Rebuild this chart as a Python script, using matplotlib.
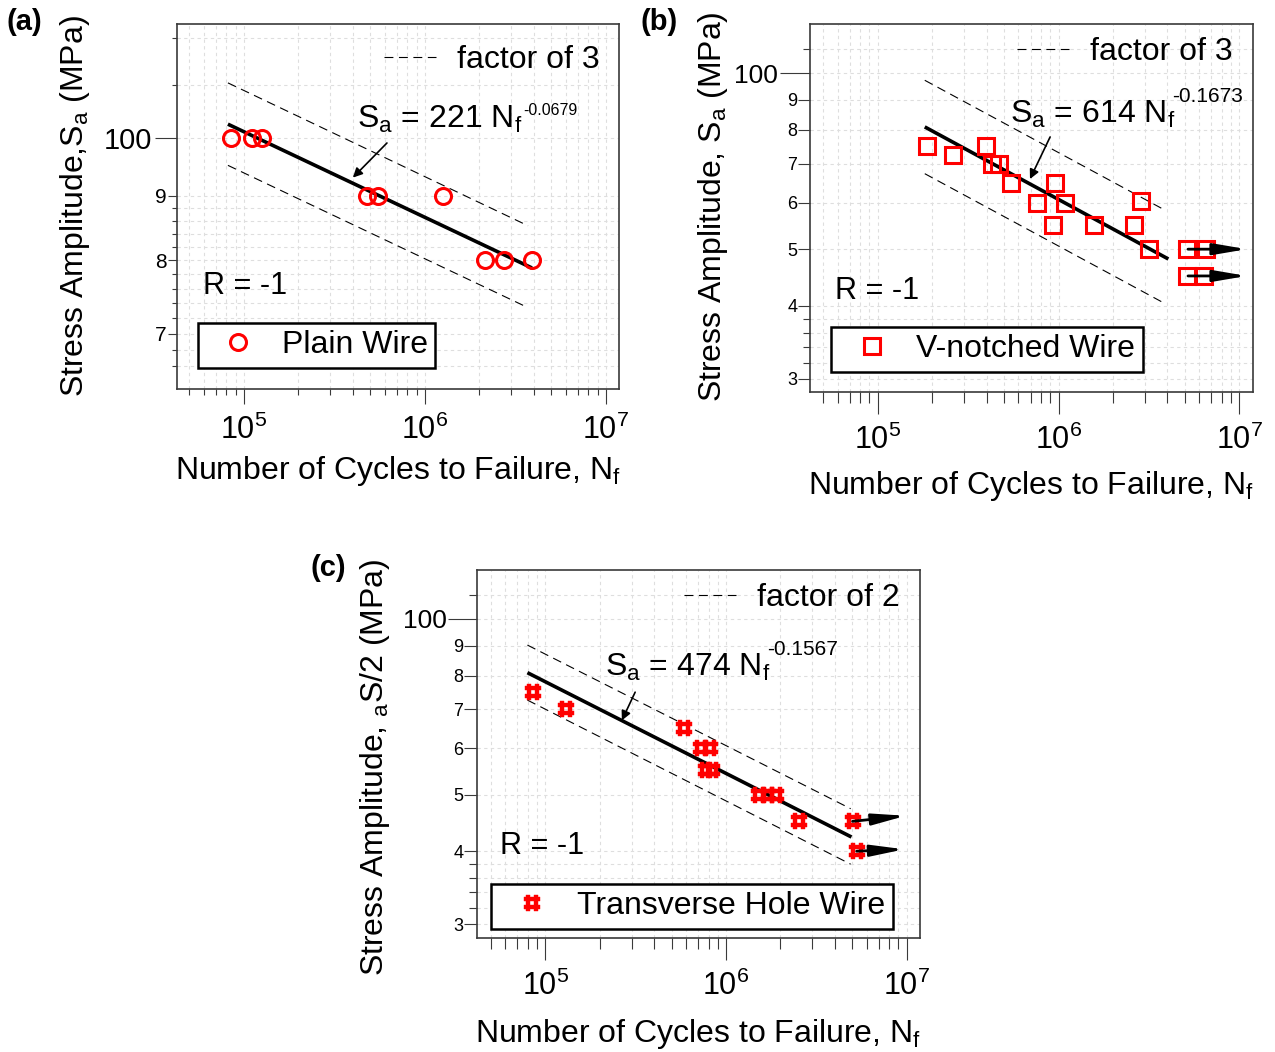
import matplotlib
matplotlib.use('Agg')
import matplotlib.pyplot as plt
from matplotlib.path import Path
from matplotlib.lines import Line2D
from matplotlib.ticker import FixedLocator, FixedFormatter, NullFormatter, NullLocator, LogLocator

plt.rcParams['font.family'] = ['Liberation Sans', 'DejaVu Sans']
plt.rcParams['mathtext.fontset'] = 'custom'
plt.rcParams['mathtext.rm'] = 'Liberation Sans'
plt.rcParams['mathtext.it'] = 'Liberation Sans:italic'
plt.rcParams['mathtext.default'] = 'regular'

# ---- (a) plain wire ----
plain_N = [8.47e4, 1.103e5, 1.254e5, 4.77e5, 5.53e5, 1.256e6, 2.15e6, 2.72e6, 3.90e6]
plain_S = [100, 100, 100, 90, 90, 90, 80, 80, 80]
plain_fit_N = [8.16e4, 3.90e6]
plain_fit_S = [102.5, 78.9]
plain_band_N = [8.16e4, 3.71e6]
plain_upper_S = [110.5, 85.2]
plain_lower_S = [95.1, 73.4]
plain_eq_head = (4.0e5, 93.0)

# ---- (b) V-notched wire ----
vnotch_N = [1.866e5, 2.60e5, 3.96e5, 4.28e5, 4.68e5, 5.45e5, 7.60e5, 9.57e5,
            1.087e6, 9.33e5, 1.574e6, 2.62e6, 2.86e6, 3.17e6]
vnotch_S = [75, 72.5, 75, 70, 70, 65, 60, 65, 60, 55, 55, 55, 60.5, 50]
vnotch_runout_N = [5.15e6, 6.55e6, 5.15e6, 6.38e6]
vnotch_runout_S = [50, 50, 45, 45]
vnotch_arrow_start_N = [5.2e6, 5.2e6]
vnotch_arrow_end_N = [1.1e7, 1.1e7]
vnotch_arrow_S = [50, 45]
vnotch_arrow_end_S = [50, 45]
vnotch_fit_N = [1.82e5, 4.05e6]
vnotch_fit_S = [80.9, 48.1]
vnotch_band_N = [1.82e5, 3.80e6]
vnotch_upper_S = [97.2, 58.5]
vnotch_lower_S = [67.3, 40.5]
vnotch_eq_head = (6.95e5, 65.9)

# ---- (c) transverse hole wire ----
hole_N = [8.59e4, 1.307e5, 5.82e5, 7.31e5, 8.20e5, 7.70e5, 8.41e5,
          1.53e6, 1.70e6, 1.88e6, 2.55e6]
hole_S = [75, 70, 65, 60, 60, 55, 55, 50, 50, 50, 45]
hole_runout_N = [5.02e6, 5.29e6]
hole_runout_S = [45, 40]
hole_arrow_start_N = [5.02e6, 5.29e6]
hole_arrow_end_N = [9.9e6, 9.7e6]
hole_arrow_S = [45, 40]
hole_arrow_end_S = [46, 40.3]
hole_fit_N = [7.95e4, 4.95e6]
hole_fit_S = [80.9, 42.3]
hole_band_N = [7.95e4, 4.90e6]
hole_upper_S = [90.2, 47.3]
hole_lower_S = [72.6, 38.0]
hole_eq_head = (2.65e5, 67.0)

x_decades = [1e5, 1e6, 1e7]
x_labels = [r'$10^{5}$', r'$10^{6}$', r'$10^{7}$']

ya_labeled = [70, 80, 90]
ya_labels = ['7', '8', '9']
ya_small = [66, 68, 72, 74, 76, 78, 82, 84, 86, 88, 110, 120]
ybc_labeled = [30, 40, 50, 60, 70, 80, 90]
ybc_labels = ['3', '4', '5', '6', '7', '8', '9']
ybc_small = [32, 34, 36, 38, 110]

FRAME = '#3a3a3a'
GRID = '#dedede'
DASH = (0, (8, 5))

# thick "#" marker drawn as one outline plus the centre hole
a, b, c = 0.22, 0.7, 1.0
hash_outer = [(-b, c), (-a, c), (-a, b), (a, b), (a, c), (b, c), (b, b), (c, b),
              (c, a), (b, a), (b, -a), (c, -a), (c, -b), (b, -b), (b, -c), (a, -c),
              (a, -b), (-a, -b), (-a, -c), (-b, -c), (-b, -b), (-c, -b), (-c, -a),
              (-b, -a), (-b, a), (-c, a), (-c, b), (-b, b), (-b, c)]
hash_hole = [(-a, -a), (a, -a), (a, a), (-a, a), (-a, -a)]
hash_marker = Path(hash_outer + hash_hole,
                   [Path.MOVETO] + [Path.LINETO] * (len(hash_outer) - 2) + [Path.CLOSEPOLY]
                   + [Path.MOVETO] + [Path.LINETO] * 3 + [Path.CLOSEPOLY])


def style_axes(ax, xlim, ylim, labeled, labels, small, big_fs, small_fs,
               ylong, ymid, yshort, ypad_big, ypad_small, xlong, xshort):
    ax.set_xscale('log')
    ax.set_yscale('log')
    ax.set_xlim(*xlim)
    ax.set_ylim(*ylim)

    ax.xaxis.set_major_locator(FixedLocator(x_decades))
    ax.xaxis.set_major_formatter(FixedFormatter(x_labels))
    ax.xaxis.set_minor_locator(LogLocator(base=10, subs=range(2, 10)))
    ax.xaxis.set_minor_formatter(NullFormatter())
    ax.tick_params(axis='x', which='major', length=xlong, width=0.8,
                   color=FRAME, labelsize=22, pad=7.5)
    ax.tick_params(axis='x', which='minor', length=xshort, width=0.8, color=FRAME)

    ax.yaxis.set_major_locator(FixedLocator([100]))
    ax.yaxis.set_major_formatter(FixedFormatter(['100']))
    ax.yaxis.set_minor_locator(FixedLocator(labeled))
    ax.yaxis.set_minor_formatter(FixedFormatter(labels))
    ax.tick_params(axis='y', which='major', length=ylong, width=0.8,
                   color=FRAME, labelsize=big_fs, pad=ypad_big)
    ax.tick_params(axis='y', which='minor', length=ymid, width=0.8,
                   color=FRAME, labelsize=small_fs, pad=ypad_small)

    sec = ax.secondary_yaxis('left')
    sec.yaxis.set_major_locator(FixedLocator(small))
    sec.yaxis.set_major_formatter(NullFormatter())
    sec.yaxis.set_minor_locator(NullLocator())
    sec.tick_params(axis='y', which='major', length=yshort, width=0.8, color=FRAME)
    sec.spines['left'].set_visible(False)

    for s in ax.spines.values():
        s.set_color(FRAME)
        s.set_linewidth(1.2)

    xs = [v for v in list(ax.xaxis.get_majorticklocs()) + list(ax.xaxis.get_minorticklocs())
          if xlim[0] < v < xlim[1]]
    for v in xs:
        ax.axvline(v, color=GRID, lw=0.8, ls=(0, (3, 3)), zorder=0)
    for v in [100] + labeled + small:
        if ylim[0] < v < ylim[1]:
            ax.axhline(v, color=GRID, lw=0.8, ls=(0, (3, 3)), zorder=0)


def factor_legend(ax, text, anchor):
    h = Line2D([], [], color='k', lw=0.8, ls=DASH)
    leg = ax.legend([h], [text], loc='center right', bbox_to_anchor=anchor,
                    frameon=False, fontsize=23, borderpad=0, borderaxespad=0,
                    handlelength=1.63, handletextpad=0.66)
    ax.add_artist(leg)


def marker_legend(ax, handle, text, anchor, hl, hp):
    leg = ax.legend([handle], [text], loc='lower left', bbox_to_anchor=anchor,
                    fontsize=23, borderpad=0.24, borderaxespad=0, numpoints=1,
                    handlelength=hl, handletextpad=hp, fancybox=False, framealpha=1)
    leg.get_frame().set_edgecolor('k')
    leg.get_frame().set_linewidth(1.8)


fig = plt.figure(figsize=(12.75, 10.52), dpi=100)
W, H = 1275, 1052
ax_a = fig.add_axes([177 / W, 1 - 389 / H, 442 / W, 365 / H])
ax_b = fig.add_axes([810 / W, 1 - 392 / H, 443 / W, 368 / H])
ax_c = fig.add_axes([477 / W, 1 - 938 / H, 443 / W, 368 / H])

style_axes(ax_a, (4.27e4, 1.18e7), (63.3, 123.0), ya_labeled, ya_labels, ya_small,
           21, 15, 15.8, 6.5, 3.6, 2.2, 1.0, 10.8, 4.3)
style_axes(ax_b, (4.22e4, 1.19e7), (28.5, 121.3), ybc_labeled, ybc_labels, ybc_small,
           19, 13, 21.6, 8.6, 5.0, 1.5, 0.5, 15.8, 7.9)
style_axes(ax_c, (4.18e4, 1.186e7), (28.4, 121.3), ybc_labeled, ybc_labels, ybc_small,
           19, 13, 21.0, 9.4, 5.8, 1.0, 0.5, 15.8, 7.9)

arrow_eq = dict(arrowstyle='-|>', color='k', lw=1.2, mutation_scale=14, shrinkA=0, shrinkB=0)
arrow_run = dict(arrowstyle='-|>,head_length=1.0,head_width=0.17', color='k', lw=2.0,
                 mutation_scale=20, shrinkA=0, shrinkB=0)

# ---- panel (a) ----
ax = ax_a
ax.plot(plain_band_N, plain_upper_S, color='k', lw=0.8, ls=DASH)
ax.plot(plain_band_N, plain_lower_S, color='k', lw=0.8, ls=DASH)
ax.plot(plain_fit_N, plain_fit_S, color='k', lw=2.6, solid_capstyle='butt')
pts_a, = ax.plot(plain_N, plain_S, ls='none', marker='o', ms=11.5, mfc='none',
                 mec='red', mew=2.2)
ax.text(0.407, 0.715, r'S$_a$ = 221 N$_f$', transform=ax.transAxes, fontsize=23,
        ha='left', va='baseline')
ax.text(0.783, 0.751, '-0.0679', transform=ax.transAxes, fontsize=11.5,
        ha='left', va='baseline')
ax.annotate('', xy=plain_eq_head, xytext=(0.475, 0.674), textcoords='axes fraction',
            arrowprops=arrow_eq)
ax.text(0.059, 0.282, 'R = -1', transform=ax.transAxes, fontsize=22, va='center')
factor_legend(ax, 'factor of 3', (0.957, 0.901))
marker_legend(ax, pts_a, 'Plain Wire', (0.0475, 0.0575), 2.03, 0.35)
ax.set_xlabel(r'Number of Cycles to Failure, N$_f$', fontsize=23)
ax.set_ylabel(r'Stress Amplitude,S$_a$ (MPa)', fontsize=23)
ax.xaxis.set_label_coords(0.5, -0.178)
ax.yaxis.set_label_coords(-0.192, 0.5)

# ---- panel (b) ----
ax = ax_b
ax.plot(vnotch_band_N, vnotch_upper_S, color='k', lw=0.8, ls=DASH)
ax.plot(vnotch_band_N, vnotch_lower_S, color='k', lw=0.8, ls=DASH)
ax.plot(vnotch_fit_N, vnotch_fit_S, color='k', lw=2.6, solid_capstyle='butt')
pts_b, = ax.plot(vnotch_N, vnotch_S, ls='none', marker='s', ms=12.2, mfc='none',
                 mec='red', mew=2.2)
ax.plot(vnotch_runout_N, vnotch_runout_S, ls='none', marker='s', ms=12.2, mfc='none',
        mec='red', mew=2.2)
for n0, n1, s0, s1 in zip(vnotch_arrow_start_N, vnotch_arrow_end_N, vnotch_arrow_S, vnotch_arrow_end_S):
    ax.annotate('', xy=(n1, s1), xytext=(n0, s0), arrowprops=arrow_run)
ax.text(0.451, 0.731, r'S$_a$ = 614 N$_f$', transform=ax.transAxes, fontsize=23,
        ha='left', va='baseline')
ax.text(0.817, 0.788, '-0.1673', transform=ax.transAxes, fontsize=15,
        ha='left', va='baseline')
ax.annotate('', xy=vnotch_eq_head, xytext=(0.542, 0.693), textcoords='axes fraction',
            arrowprops=arrow_eq)
ax.text(0.056, 0.274, 'R = -1', transform=ax.transAxes, fontsize=22, va='center')
factor_legend(ax, 'factor of 3', (0.955, 0.924))
marker_legend(ax, pts_b, 'V-notched Wire', (0.0474, 0.0543), 2.09, 0.34)
ax.set_xlabel(r'Number of Cycles to Failure, N$_f$', fontsize=23)
ax.set_ylabel(r'Stress Amplitude, S$_a$ (MPa)', fontsize=23)
ax.xaxis.set_label_coords(0.5, -0.21)
ax.yaxis.set_label_coords(-0.18, 0.503)

# ---- panel (c) ----
ax = ax_c
ax.plot(hole_band_N, hole_upper_S, color='k', lw=0.8, ls=DASH)
ax.plot(hole_band_N, hole_lower_S, color='k', lw=0.8, ls=DASH)
ax.plot(hole_fit_N, hole_fit_S, color='k', lw=2.6, solid_capstyle='butt')
pts_c, = ax.plot(hole_N, hole_S, ls='none', marker=hash_marker, ms=12,
                 mfc='red', mec='red', mew=0.3)
ax.plot(hole_runout_N, hole_runout_S, ls='none', marker=hash_marker, ms=12,
        mfc='red', mec='red', mew=0.3)
for n0, n1, s0, s1 in zip(hole_arrow_start_N, hole_arrow_end_N, hole_arrow_S, hole_arrow_end_S):
    ax.annotate('', xy=(n1, s1), xytext=(n0, s0), arrowprops=arrow_run)
ax.text(0.289, 0.712, r'S$_a$ = 474 N$_f$', transform=ax.transAxes, fontsize=23,
        ha='left', va='baseline')
ax.text(0.655, 0.769, '-0.1567', transform=ax.transAxes, fontsize=15,
        ha='left', va='baseline')
ax.annotate('', xy=hole_eq_head, xytext=(0.357, 0.668), textcoords='axes fraction',
            arrowprops=arrow_eq)
ax.text(0.052, 0.25, 'R = -1', transform=ax.transAxes, fontsize=22, va='center')
factor_legend(ax, 'factor of 2', (0.955, 0.924))
marker_legend(ax, pts_c, 'Transverse Hole Wire', (0.0316, 0.0245), 2.09, 0.37)
ax.set_xlabel(r'Number of Cycles to Failure, N$_f$', fontsize=23)
ax.set_ylabel(r'Stress Amplitude, ${}_{a}$S/2 (MPa)', fontsize=23)
ax.xaxis.set_label_coords(0.5, -0.215)
ax.yaxis.set_label_coords(-0.192, 0.465)

fig.text(7 / W, 1 - 22 / H, '(a)', fontsize=21, fontweight='bold', va='center')
fig.text(641 / W, 1 - 22 / H, '(b)', fontsize=21, fontweight='bold', va='center')
fig.text(310 / W, 1 - 568 / H, '(c)', fontsize=21, fontweight='bold', va='center')

fig.savefig('out.png', dpi=100)
